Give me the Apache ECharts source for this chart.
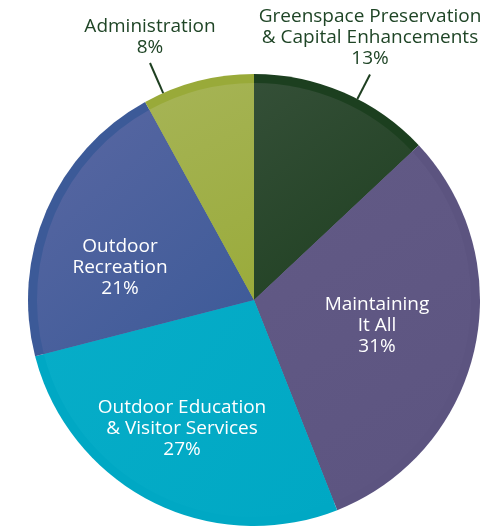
<!DOCTYPE html>
<html><head><meta charset="utf-8">
<script src="https://cdn.jsdelivr.net/npm/echarts@6/dist/echarts.min.js"></script>
<style>html,body{margin:0;padding:0;background:#fff}#c{width:498px;height:528px}</style>
</head><body><div id="c"></div>
<script>
const categories = ['Greenspace Preservation\n& Capital Enhancements', 'Maintaining\nIt All', 'Outdoor Education\n& Visitor Services', 'Outdoor\nRecreation', 'Administration'];
const values = [13, 31, 27, 21, 8];

// styling (not data)
const rimColors = ['#1c3f1f', '#5c5480', '#00a8c4', '#3c5a98', '#99aa39'];
const innerTop = ['#344f37', '#625a86', '#07adc8', '#5967a2', '#a6b456'];
const innerBottom = ['#1e3f20', '#5c5480', '#00a8c4', '#3c5a98', '#9aab3b'];
const labelInside = [false, true, true, true, false];
const labelPos = [[370, 38], [377, 326], [182, 429], [120, 268], [150, 37]];

const chart = echarts.init(document.getElementById('c'));
const cx = 254, cy = 300, R = 226, Rin = 217;

function mk(i, fill) {
  return { name: categories[i], value: values[i], itemStyle: { color: fill } };
}
const outerData = values.map((v, i) => mk(i, rimColors[i]));
const innerData = values.map((v, i) => mk(i, {
  type: 'linear', x: 0, y: 0, x2: 1, y2: 1,
  colorStops: [{ offset: 0, color: innerTop[i] }, { offset: 1, color: innerBottom[i] }]
}));
const labelData = values.map((v, i) => ({
  name: categories[i], value: v,
  itemStyle: { color: 'rgba(0,0,0,0)' },
  label: {
    position: labelInside[i] ? 'inside' : 'outside',
    color: labelInside[i] ? '#ffffff' : '#1f4526'
  },
  labelLine: { show: !labelInside[i] }
}));

const common = {
  type: 'pie', center: [cx, cy], startAngle: 90, clockwise: true,
  silent: true, animation: false, avoidLabelOverlap: false
};

chart.setOption({
  animation: false,
  series: [
    Object.assign({}, common, { radius: [0, R], data: outerData, label: { show: false }, labelLine: { show: false }, itemStyle: { borderWidth: 0 }, z: 1 }),
    Object.assign({}, common, { radius: [0, Rin], data: innerData, label: { show: false }, labelLine: { show: false }, itemStyle: { borderWidth: 0 }, z: 2 }),
    Object.assign({}, common, {
      radius: [0, R], data: labelData, z: 3,
      itemStyle: { borderWidth: 0 },
      label: {
        show: true, formatter: '{b}\n{c}%',
        fontFamily: 'Open Sans', fontSize: 19, lineHeight: 21, align: 'center'
      },
      labelLine: { show: true, length: 20, length2: 0, lineStyle: { color: '#1e3f20', width: 2 } },
      labelLayout: function (p) {
        const i = p.dataIndex;
        const pos = labelPos[i];
        const out = { x: pos[0], y: pos[1], align: 'center', verticalAlign: 'middle' };
        if (!labelInside[i]) {
          const h = p.labelRect ? p.labelRect.height : 63;
          const tx = pos[0], ty = pos[1] + h / 2 + 5;
          const a = Math.atan2(tx - cx, cy - ty);
          out.labelLinePoints = [
            [cx + R * Math.sin(a), cy - R * Math.cos(a)],
            [tx, ty],
            [tx, ty]
          ];
        }
        return out;
      }
    })
  ]
});
</script></body></html>
